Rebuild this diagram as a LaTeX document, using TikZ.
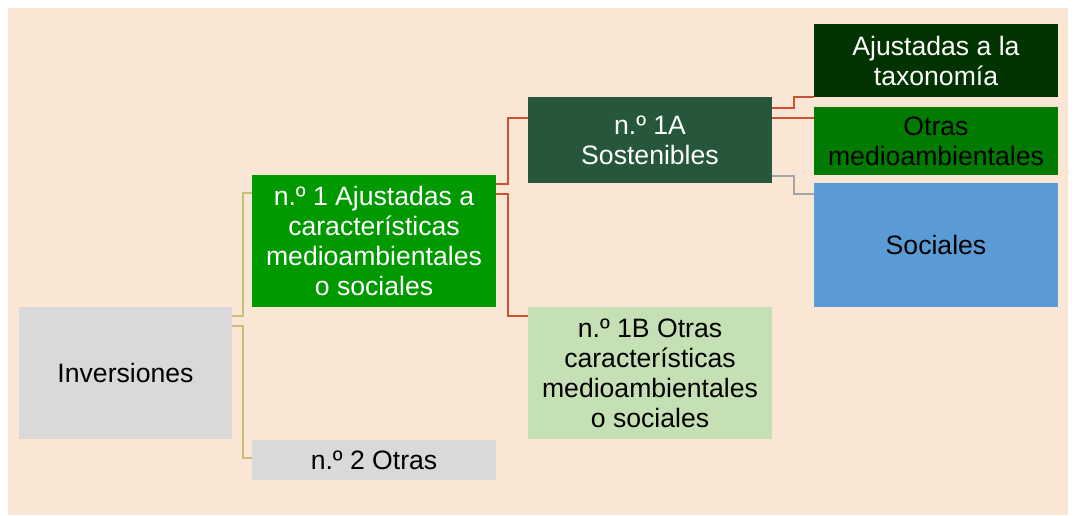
\documentclass[tikz,border=0pt]{standalone}
\usepackage{fontspec}
\setmainfont{Liberation Sans}
\usetikzlibrary{positioning}
\definecolor{peach}{HTML}{FAE6D4}
\definecolor{grey}{HTML}{D9D9D9}
\definecolor{leaf}{HTML}{009900}
\definecolor{pine}{HTML}{27573B}
\definecolor{night}{HTML}{003300}
\definecolor{grass}{HTML}{007A00}
\definecolor{sky}{HTML}{5B9BD5}
\definecolor{mint}{HTML}{C5E0B4}
\definecolor{straw}{HTML}{C9BD7A}
\definecolor{rust}{HTML}{CD5230}
\definecolor{ash}{HTML}{A5A5A5}

\begin{document}
\begin{tikzpicture}[x=1pt, y=1pt, box/.style = {inner sep=0pt, align=center, minimum width=244pt, font=\fontsize{26.6}{30}\selectfont}, link/.style = {line width=2pt}] 
			\useasboundingbox (0,0) rectangle (1074,515);
			\fill[peach] (8,0) rectangle (1068,507);
			\node[box, fill=grey, minimum width=213pt, minimum height=132pt] (inv) at (125.5,142) {Inversiones}; 
			\node[box, fill=leaf, text=white, minimum height=132pt] (n1) at (374,274) {n.º 1 Ajustadas a\\características\\medioambientales\\o sociales};
			\node[box, fill=grey, minimum height=40pt] (n2) at (374,55) {n.º 2 Otras};
			\node[box, fill=pine, text=white, minimum height=86pt] (n1a) at (650,375) {n.º 1A\\Sostenibles};
			\node[box, fill=mint, minimum height=132pt] (n1b) at (650,142) {n.º 1B Otras\\características\\medioambientales\\o sociales};
			\node[box, fill=night, text=white, minimum height=73pt] (tax) at (936,454.5) {Ajustadas a la\\taxonomía};
			\node[box, fill=grass, minimum height=68pt] (otr) at (936,374) {Otras\\medioambientales};
			\node[box, fill=sky, minimum height=124pt] (soc) at (936,270) {Sociales};
			\draw[link, straw] ([yshift=-9]inv.north east) -- ++(11,0) |- ([yshift=-18]n1.north west);
			\draw[link, straw] ([yshift=-19]inv.north east) -- ++(11,0) |- ([yshift=2]n2.west);
			\draw[link, rust] ([yshift=-9]n1.north east) -- ++(12,0) |- ([yshift=-21]n1a.north west);
			\draw[link, rust] ([yshift=-19]n1.north east) -- ++(12,0) |- ([yshift=-9]n1b.north west);
			\draw[link, rust] ([yshift=-11]n1a.north east) -- ++(22,0) |- (tax.south west);
			\draw[link, rust] ([yshift=-21]n1a.north east) -- ([yshift=-11]otr.north west);
			\draw[link, ash] ([yshift=7]n1a.south east) -- ++(22,0) |- ([yshift=-11]soc.north west);
		\end{tikzpicture}
\end{document}
